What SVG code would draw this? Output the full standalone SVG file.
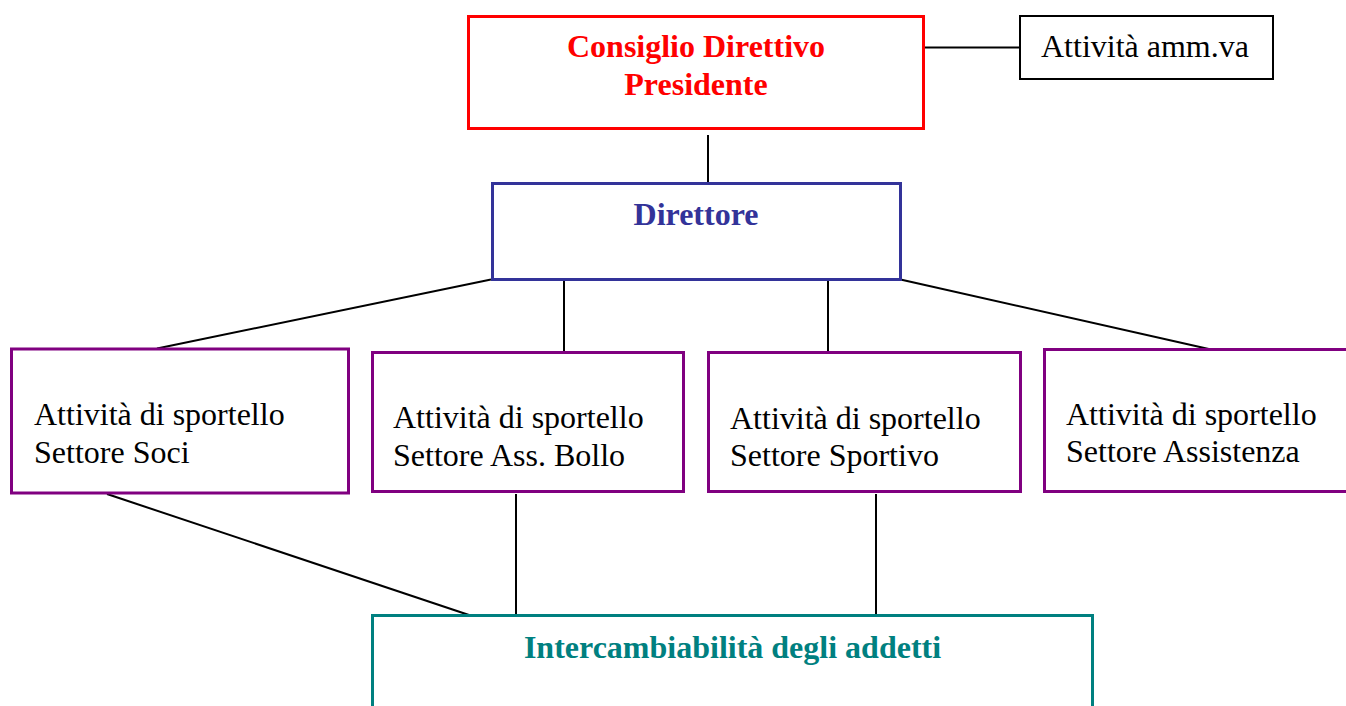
<svg xmlns="http://www.w3.org/2000/svg" width="1346" height="706" viewBox="0 0 1346 706">
<style>
.t{font-family:"Liberation Serif","Times New Roman",serif;font-size:32px;fill:#000}
.b{font-weight:bold;text-anchor:middle}
.box{fill:#fff;stroke-width:3}
.sect{fill:#fff;stroke:#800080;stroke-width:3}
.con{stroke:#000;stroke-width:2;fill:none}
</style>
<rect width="1346" height="706" fill="#fff"/>
<g id="connectors">
<line class="con" x1="925" y1="47.5" x2="1019" y2="47.5"/>
<line class="con" x1="708" y1="135" x2="708" y2="183"/>
<line class="con" x1="491" y1="279.5" x2="157" y2="348.5"/>
<line class="con" x1="564" y1="279.5" x2="564" y2="351"/>
<line class="con" x1="828" y1="279.5" x2="828" y2="351"/>
<line class="con" x1="900.5" y1="279.5" x2="1211" y2="349.5"/>
<line class="con" x1="107" y1="494" x2="469" y2="615"/>
<line class="con" x1="516" y1="494" x2="516" y2="615"/>
<line class="con" x1="876" y1="494" x2="876" y2="615"/>
</g>
<g id="consiglio">
<rect class="box" x="468.5" y="16.5" width="455" height="112" stroke="#FF0000"/>
<text class="t b" x="696" y="57" style="fill:#FF0000">Consiglio Direttivo</text>
<text class="t b" x="696" y="95" style="fill:#FF0000">Presidente</text>
</g>
<g id="amministrativa">
<rect x="1020" y="16" width="253" height="63" fill="#fff" stroke="#000" stroke-width="2"/>
<text class="t" x="1041" y="57">Attività amm.va</text>
</g>
<g id="direttore">
<rect class="box" x="492.5" y="183.5" width="408" height="96" stroke="#333399"/>
<text class="t b" x="696" y="225" style="fill:#333399">Direttore</text>
</g>
<g id="soci">
<rect class="sect" x="11.5" y="349" width="337" height="144"/>
<text class="t" x="34" y="425">Attività di sportello</text>
<text class="t" x="34" y="463">Settore Soci</text>
</g>
<g id="bollo">
<rect class="sect" x="372.5" y="352.5" width="311" height="139"/>
<text class="t" x="393" y="428">Attività di sportello</text>
<text class="t" x="393" y="466">Settore Ass. Bollo</text>
</g>
<g id="sportivo">
<rect class="sect" x="708.5" y="352.5" width="312" height="139"/>
<text class="t" x="730" y="429">Attività di sportello</text>
<text class="t" x="730" y="466">Settore Sportivo</text>
</g>
<g id="assistenza">
<rect class="sect" x="1044.5" y="349.5" width="320" height="142"/>
<text class="t" x="1066" y="425">Attività di sportello</text>
<text class="t" x="1066" y="462">Settore Assistenza</text>
</g>
<g id="intercambiabilita">
<rect class="box" x="372.5" y="615.5" width="720" height="120" stroke="#008080"/>
<text class="t b" x="732.5" y="658" style="fill:#008080">Intercambiabilità degli addetti</text>
</g>
</svg>
